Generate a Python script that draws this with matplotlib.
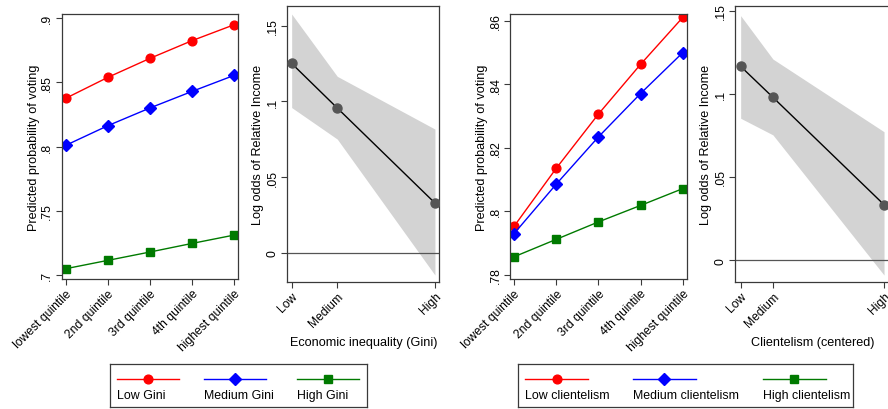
import matplotlib
matplotlib.use("Agg")
import matplotlib.pyplot as plt
import numpy as np

plt.rcParams['font.family'] = ['Liberation Sans', 'DejaVu Sans']

# ---------------- data ----------------
quintiles = ["lowest quintile", "2nd quintile", "3rd quintile", "4th quintile", "highest quintile"]

gini_low = [0.8375, 0.8538, 0.8686, 0.8824, 0.8948]
gini_med = [0.8009, 0.8162, 0.8300, 0.8429, 0.8554]
gini_high = [0.7049, 0.7114, 0.7179, 0.7246, 0.7311]

cl_low = [0.7952, 0.8135, 0.8306, 0.8463, 0.8611]
cl_med = [0.7929, 0.8085, 0.8234, 0.8371, 0.8500]
cl_high = [0.7856, 0.7911, 0.7966, 0.8018, 0.8071]

level_labels = ["Low", "Medium", "High"]
gini_levels = [0.35, 0.42, 0.57]
gini_est = [0.1251, 0.0957, 0.0330]
gini_upper = [0.1577, 0.1166, 0.0818]
gini_lower = [0.0960, 0.0752, -0.0145]

client_levels = [-1.0, -0.55, 1.0]
client_est = [0.1165, 0.0979, 0.0333]
client_upper = [0.1470, 0.1209, 0.0772]
client_lower = [0.0853, 0.0753, -0.0090]

legend1 = ["Low Gini", "Medium Gini", "High Gini"]
legend2 = ["Low clientelism", "Medium clientelism", "High clientelism"]

# ---------------- style ----------------
W, H = 888, 410
RED, BLUE, GREEN = "#ff0000", "#0000ff", "#007a00"
BAND = "#d3d3d3"
PT = "#555555"
FRAME = "#3a3a3a"
FS = 8.7

fig = plt.figure(figsize=(W / 100, H / 100), dpi=100)


def px_axes(l, r, t, b):
    return fig.add_axes([l / W, 1 - b / H, (r - l) / W, (b - t) / H])


def style(ax):
    for s in ax.spines.values():
        s.set_color(FRAME)
        s.set_linewidth(0.9)
    ax.tick_params(axis='both', length=4, width=0.8, color=FRAME, labelsize=FS, pad=2)
    for lab in ax.get_yticklabels():
        lab.set_rotation(90)
        lab.set_va('center')
    for lab in ax.get_xticklabels():
        lab.set_rotation(45)
        lab.set_ha('right')
        lab.set_va('top')
        lab.set_rotation_mode('anchor')


def fmt(v):
    s = ("%g" % v)
    if s.startswith("0."):
        s = s[1:]
    return s


def quintile_panel(ax, series, yticks, ylim, yticklabels=None):
    x = np.arange(len(quintiles))
    ax.plot(x, series[0], color=RED, marker='o', ms=6.3, lw=1.0)
    ax.plot(x, series[1], color=BLUE, marker='D', ms=5.8, lw=1.0)
    ax.plot(x, series[2], color=GREEN, marker='s', ms=5.8, lw=1.0)
    ax.set_xticks(x)
    ax.set_xticklabels(quintiles)
    ax.set_yticks(yticks)
    ax.set_yticklabels(yticklabels if yticklabels else [fmt(v) for v in yticks])
    ax.set_xlim(-0.095, len(quintiles) - 1 + 0.095)
    ax.set_ylim(*ylim)
    ax.set_ylabel("Predicted probability of voting", fontsize=FS + 0.4, labelpad=1)
    style(ax)


def effect_panel(ax, xs, est, lo, hi, xlim, ylim, yticks, xlabel):
    ax.fill_between(xs, lo, hi, color=BAND, lw=0, zorder=1)
    ax.axhline(0, color="#555555", lw=0.9, zorder=2)
    ax.plot(xs, est, color="black", lw=1.0, zorder=3)
    ax.plot(xs, est, ls='none', marker='o', ms=6.5, color=PT, zorder=4)
    ax.set_xticks(xs)
    ax.set_xticklabels(level_labels)
    ax.set_yticks(yticks)
    ax.set_yticklabels([fmt(v) for v in yticks])
    ax.set_xlim(*xlim)
    ax.set_ylim(*ylim)
    ax.set_ylabel("Log odds of Relative Income", fontsize=FS + 0.4, labelpad=2)
    ax.set_xlabel(xlabel, fontsize=FS + 0.4, labelpad=5)
    style(ax)


ax1 = px_axes(61.7, 238.3, 15, 280)
quintile_panel(ax1, [gini_low, gini_med, gini_high], [0.7, 0.75, 0.8, 0.85, 0.9], (0.6969, 0.9031))

ax2 = px_axes(287.3, 439.3, 7.3, 282.7)
effect_panel(ax2, gini_levels, gini_est, gini_lower, gini_upper,
             (0.3433, 0.5767), (-0.0189, 0.1628), [0, 0.05, 0.1, 0.15],
             "Economic inequality (Gini)")

ax3 = px_axes(510, 686.7, 15, 280)
quintile_panel(ax3, [cl_low, cl_med, cl_high], [0.78, 0.80, 0.82, 0.84, 0.86], (0.7786, 0.8622),
               [".78", ".8", ".82", ".84", ".86"])

ax4 = px_axes(735, 889.7, 6.7, 282.7)
effect_panel(ax4, client_levels, client_est, client_lower, client_upper,
             (-1.079, 1.079), (-0.013, 0.153), [0, 0.05, 0.1, 0.15],
             "Clientelism (centered)")


def legend_box(l, r, labels, starts, ends):
    lg = px_axes(l, r, 365, 408)
    lg.set_xlim(0, 1)
    lg.set_ylim(0, 1)
    lg.set_xticks([])
    lg.set_yticks([])
    for s in lg.spines.values():
        s.set_color(FRAME)
        s.set_linewidth(0.9)
    colors = [RED, BLUE, GREEN]
    markers = ['o', 'D', 's']
    sizes = [6.3, 5.8, 5.8]
    for lab, a, b, c, m, ms in zip(labels, starts, ends, colors, markers, sizes):
        lg.plot([a, b], [0.65, 0.65], color=c, lw=1.0)
        lg.plot([(a + b) / 2], [0.65], color=c, marker=m, ms=ms)
        lg.text(a, 0.29, lab, fontsize=FS + 0.2, ha='left', va='center')


legend_box(110, 367, legend1, [0.027, 0.366, 0.728], [0.268, 0.607, 0.969])
legend_box(518, 853, legend2, [0.021, 0.343, 0.731], [0.209, 0.531, 0.919])

fig.savefig("out.png", dpi=100)
